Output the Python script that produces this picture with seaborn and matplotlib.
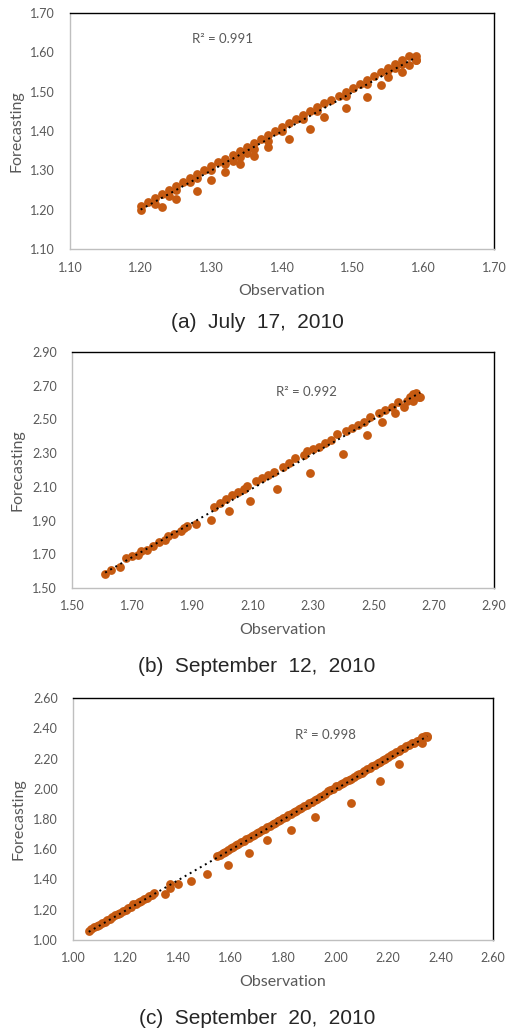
import numpy as np
import pandas as pd
import matplotlib
matplotlib.use("Agg")
import matplotlib.pyplot as plt
import seaborn as sns

# (a) July 17, 2010
a_obs = [1.20, 1.21, 1.22, 1.23, 1.24, 1.25, 1.26, 1.27, 1.28, 1.29,
         1.30, 1.31, 1.32, 1.33, 1.34, 1.35, 1.36, 1.37, 1.38, 1.39,
         1.40, 1.41, 1.42, 1.43, 1.44, 1.45, 1.46, 1.47, 1.48, 1.49,
         1.50, 1.51, 1.52, 1.53, 1.54, 1.55, 1.56, 1.57, 1.58, 1.59,
         1.20, 1.22, 1.24, 1.25, 1.27, 1.28, 1.30, 1.32, 1.33, 1.34,
         1.35, 1.36, 1.38, 1.40, 1.43, 1.45, 1.49, 1.52, 1.55, 1.56,
         1.57, 1.59,
         1.23, 1.25, 1.28, 1.30, 1.32, 1.34, 1.36, 1.38, 1.41, 1.44,
         1.46, 1.49, 1.52, 1.54, 1.55, 1.57, 1.58, 1.59]
a_fc = [1.21, 1.22, 1.23, 1.24, 1.25, 1.26, 1.27, 1.28, 1.29, 1.30,
        1.31, 1.32, 1.33, 1.34, 1.35, 1.36, 1.37, 1.38, 1.39, 1.40,
        1.41, 1.42, 1.43, 1.44, 1.45, 1.46, 1.47, 1.48, 1.49, 1.50,
        1.51, 1.52, 1.53, 1.54, 1.55, 1.56, 1.57, 1.58, 1.59, 1.59,
        1.20, 1.215, 1.235, 1.25, 1.27, 1.28, 1.30, 1.315, 1.325, 1.335,
        1.345, 1.355, 1.375, 1.40, 1.43, 1.45, 1.49, 1.52, 1.555, 1.56,
        1.57, 1.58,
        1.208, 1.228, 1.247, 1.275, 1.297, 1.316, 1.337, 1.36, 1.379, 1.405,
        1.436, 1.458, 1.487, 1.516, 1.538, 1.549, 1.567, 1.58]

# (b) September 12, 2010
b_obs = [1.61, 1.63, 1.66, 1.68, 1.70, 1.72, 1.73, 1.75, 1.77, 1.79,
         1.81, 1.82, 1.84, 1.86, 1.87, 1.88, 1.91, 1.96, 1.97, 1.99,
         2.01, 2.02, 2.03, 2.05, 2.07, 2.08, 2.09, 2.11, 2.13, 2.15,
         2.17, 2.18, 2.20, 2.22, 2.24, 2.27, 2.28, 2.29, 2.30, 2.32,
         2.34, 2.36, 2.38, 2.40, 2.41, 2.43, 2.45, 2.47, 2.48, 2.49,
         2.52, 2.53, 2.54, 2.56, 2.57, 2.58, 2.60, 2.61, 2.62, 2.63,
         2.64, 2.63, 2.65, 2.655]
b_fc = [1.583, 1.609, 1.622, 1.676, 1.688, 1.697, 1.717, 1.727, 1.747, 1.77,
        1.786, 1.806, 1.822, 1.836, 1.855, 1.865, 1.879, 1.903, 1.98, 2.004,
        2.029, 1.954, 2.051, 2.069, 2.087, 2.108, 2.015, 2.132, 2.152, 2.171,
        2.191, 2.088, 2.217, 2.24, 2.27, 2.29, 2.31, 2.181, 2.325, 2.339,
        2.359, 2.379, 2.412, 2.292, 2.432, 2.448, 2.468, 2.487, 2.406, 2.517,
        2.537, 2.487, 2.556, 2.576, 2.541, 2.606, 2.576, 2.612, 2.635, 2.651,
        2.655, 2.612, 2.635, 2.635]

# (c) September 20, 2010
c_obs = [1.06, 1.07, 1.08, 1.09, 1.10, 1.11, 1.12, 1.13, 1.14, 1.15,
         1.16, 1.17, 1.18, 1.19, 1.20, 1.21, 1.22, 1.23, 1.24, 1.25,
         1.26, 1.27, 1.28, 1.29, 1.30, 1.31,
         1.55, 1.56, 1.57, 1.58, 1.59, 1.60, 1.61, 1.62, 1.63, 1.64,
         1.65, 1.66, 1.67, 1.68, 1.69, 1.70, 1.71, 1.72, 1.73, 1.74,
         1.75, 1.76, 1.77, 1.78, 1.79, 1.80, 1.81, 1.82, 1.83, 1.84,
         1.85, 1.86, 1.87, 1.88, 1.89, 1.90, 1.91, 1.92, 1.93, 1.94,
         1.95, 1.96, 1.97, 1.98, 1.99, 2.00, 2.01, 2.02, 2.03, 2.04,
         2.05, 2.06, 2.07, 2.08, 2.09, 2.10, 2.11, 2.12, 2.13, 2.14,
         2.15, 2.16, 2.17, 2.18, 2.19, 2.20, 2.21, 2.22, 2.23, 2.24,
         2.25, 2.26, 2.27, 2.28, 2.29, 2.30, 2.31, 2.32, 2.33, 2.34,
         2.35,
         1.35, 1.37, 1.37, 1.40, 1.45, 1.51, 1.59, 1.67, 1.74, 1.83,
         1.92, 2.06, 2.17, 2.24, 2.35, 2.33]
c_fc = [1.06, 1.075, 1.085, 1.09, 1.10, 1.11, 1.12, 1.13, 1.14, 1.155,
        1.165, 1.17, 1.18, 1.19, 1.20, 1.21, 1.22, 1.235, 1.24, 1.25,
        1.26, 1.27, 1.28, 1.29, 1.30, 1.31,
        1.555, 1.565, 1.575, 1.585, 1.595, 1.605, 1.615, 1.625, 1.635, 1.645,
        1.655, 1.665, 1.675, 1.685, 1.695, 1.705, 1.715, 1.725, 1.735, 1.745,
        1.755, 1.765, 1.775, 1.785, 1.795, 1.805, 1.815, 1.825, 1.835, 1.845,
        1.855, 1.865, 1.875, 1.885, 1.895, 1.905, 1.915, 1.925, 1.935, 1.945,
        1.955, 1.965, 1.985, 1.99, 2.00, 2.015, 2.02, 2.03, 2.04, 2.05,
        2.055, 2.065, 2.08, 2.09, 2.10, 2.105, 2.115, 2.13, 2.14, 2.15,
        2.16, 2.17, 2.18, 2.19, 2.20, 2.21, 2.22, 2.23, 2.24, 2.25,
        2.26, 2.27, 2.28, 2.29, 2.30, 2.305, 2.315, 2.325, 2.34, 2.35,
        2.34,
        1.305, 1.371, 1.342, 1.369, 1.391, 1.439, 1.497, 1.578, 1.658, 1.73,
        1.814, 1.905, 2.051, 2.166, 2.35, 2.30]

panels = [
    dict(obs=a_obs, fc=a_fc, lim=(1.10, 1.70), step=0.10, r2="R² = 0.991",
         r2_pos=(1.273, 1.635), caption="(a)  July  17,  2010",
         box=(70, 494, 13, 249), ylab_x=-0.125, xlab_y=-0.178, cap_y=323),
    dict(obs=b_obs, fc=b_fc, lim=(1.50, 2.90), step=0.20, r2="R² = 0.992",
         r2_pos=(2.178, 2.665), caption="(b)  September  12,  2010",
         box=(72, 494, 352, 588), ylab_x=-0.128, xlab_y=-0.178, cap_y=667),
    dict(obs=c_obs, fc=c_fc, lim=(1.00, 2.60), step=0.20, r2="R² = 0.998",
         r2_pos=(1.845, 2.357), caption="(c)  September  20,  2010",
         box=(73, 493, 698, 940), ylab_x=-0.13, xlab_y=-0.174, cap_y=1018),
]

sns.set_style("white")
plt.rcParams['font.family'] = ['Lato', 'DejaVu Sans']

W, H = 507, 1030
fig = plt.figure(figsize=(W / 100, H / 100), dpi=100)

dot_color = "#C55A11"
grey = "#595959"

for p in panels:
    l, r, t, b = p["box"]
    ax = fig.add_axes([l / W, 1 - b / H, (r - l) / W, (b - t) / H])
    df = pd.DataFrame({"Observation": p["obs"], "Forecasting": p["fc"]})
    sns.scatterplot(data=df, x="Observation", y="Forecasting", ax=ax,
                    color=dot_color, s=40, linewidth=0, zorder=2)
    sns.regplot(data=df, x="Observation", y="Forecasting", ax=ax,
                scatter=False, ci=None, color="black", truncate=True,
                line_kws=dict(ls=(0, (1, 2)), lw=1.4, zorder=3))
    lo, hi = p["lim"]
    ticks = np.arange(lo, hi + p["step"] / 2, p["step"])
    ax.set_xlim(lo, hi)
    ax.set_ylim(lo, hi)
    ax.set_xticks(ticks)
    ax.set_yticks(ticks)
    ax.set_xticklabels([f"{v:.2f}" for v in ticks])
    ax.set_yticklabels([f"{v:.2f}" for v in ticks])
    ax.tick_params(axis="x", length=0, pad=9, labelsize=9, labelcolor=grey)
    ax.tick_params(axis="y", length=0, pad=11, labelsize=9, labelcolor=grey)
    ax.set_xlabel("Observation", fontsize=11.5, color=grey, va="center")
    ax.set_ylabel("Forecasting", fontsize=11.5, color=grey, va="center")
    ax.xaxis.set_label_coords(0.5, p["xlab_y"])
    ax.yaxis.set_label_coords(p["ylab_x"], 0.5)
    for side in ["left", "bottom"]:
        ax.spines[side].set_color("#BFBFBF")
        ax.spines[side].set_linewidth(1.0)
    for side in ["top", "right"]:
        ax.spines[side].set_color("black")
        ax.spines[side].set_linewidth(1.0)
    ax.text(p["r2_pos"][0], p["r2_pos"][1], p["r2"], fontsize=9.5,
            color=grey, ha="left", va="center")
    fig.text(257 / W, 1 - p["cap_y"] / H, p["caption"], ha="center",
             va="center", fontsize=15, family="Liberation Sans")

fig.savefig("out.png", dpi=100)
